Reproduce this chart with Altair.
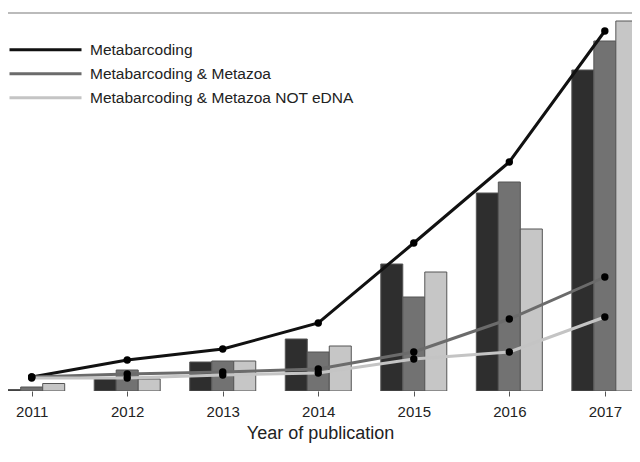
import altair as alt
import pandas as pd

years = [2011, 2012, 2013, 2014, 2015, 2016, 2017]
series = [
    "Metabarcoding",
    "Metabarcoding & Metazoa",
    "Metabarcoding & Metazoa NOT eDNA",
]

# bars (left axis of the original figure is cropped away, values estimated)
bar_meta = [1.5, 13, 29, 52, 127, 198, 321]
bar_metazoa = [4, 21, 30, 39, 94, 209, 350]
bar_not_edna = [7.5, 12, 30, 45, 119, 162, 370]

# lines
line_meta = [14, 31, 42, 68, 148, 229, 360]
line_metazoa = [14, 17, 19, 22, 39, 72, 114]
line_not_edna = [13, 13, 16, 18, 32, 39, 74]

bar_colors = ["#2e2e2e", "#727272", "#c6c6c6"]
line_colors = ["#111111", "#6b6b6b", "#c4c4c4"]

FONT = "Liberation Sans"
W, H = 624, 378

x_scale = alt.Scale(domain=[2010.8043, 2017.2320], nice=False, zero=False)
y_scale = alt.Scale(domain=[0, 378], nice=False)
x_axis = alt.Axis(
    values=years, format="d", title="Year of publication", domain=False, grid=False,
    tickSize=5, tickColor="#555", labelFontSize=15, labelFont=FONT, labelColor="#222",
    labelPadding=8, labelOverlap=False, labelFlush=False, titleFontSize=18, titleFont=FONT,
    titleFontWeight="normal", titleColor="#222", titlePadding=5,
)

x_enc = alt.X("year:Q", scale=x_scale, axis=x_axis)
y_enc = alt.Y("count:Q", scale=y_scale, axis=None)


def bar_layer(values, color, offset):
    df = pd.DataFrame({"year": years, "count": values})
    return alt.Chart(df).mark_bar(
        size=22, xOffset=offset, color=color, stroke="#555555", strokeWidth=1, clip=True
    ).encode(x=x_enc, y=y_enc)


bars = [
    bar_layer(bar_meta, bar_colors[0], -22),
    bar_layer(bar_metazoa, bar_colors[1], 0),
    bar_layer(bar_not_edna, bar_colors[2], 22),
]

lines_df = pd.DataFrame({
    "year": years * 3,
    "count": line_meta + line_metazoa + line_not_edna,
    "series": [s for s in series for _ in years],
})

lines = alt.Chart(lines_df).mark_line(strokeWidth=3).encode(
    x=x_enc,
    y=y_enc,
    color=alt.Color(
        "series:N",
        scale=alt.Scale(domain=series, range=line_colors),
        legend=alt.Legend(
            title=None, orient="none", legendX=0, legendY=25, symbolType="stroke",
            symbolSize=5184, symbolStrokeWidth=3, labelFontSize=15.5, labelFont=FONT,
            labelColor="#222", clipHeight=23.3, rowPadding=0, labelOffset=7, padding=0,
            labelLimit=400,
        ),
    ),
)

points = alt.Chart(lines_df).mark_circle(size=55, color="black", opacity=1).encode(
    x=x_enc, y=y_enc
)

top_rule = alt.Chart(alt.Data(values=[{}])).mark_rule(color="#bbbbbb", strokeWidth=2).encode(
    x=alt.value(0), x2=alt.value(W), y=alt.value(0)
)

chart = (
    alt.layer(top_rule, *bars, lines, points)
    .properties(
        width=W, height=H, autosize="none",
        padding={"left": 0, "top": 5, "right": 0, "bottom": 60},
    )
    .configure_view(strokeWidth=0)
)

chart.save("out.html", embed_options={"renderer": "svg", "actions": False})
